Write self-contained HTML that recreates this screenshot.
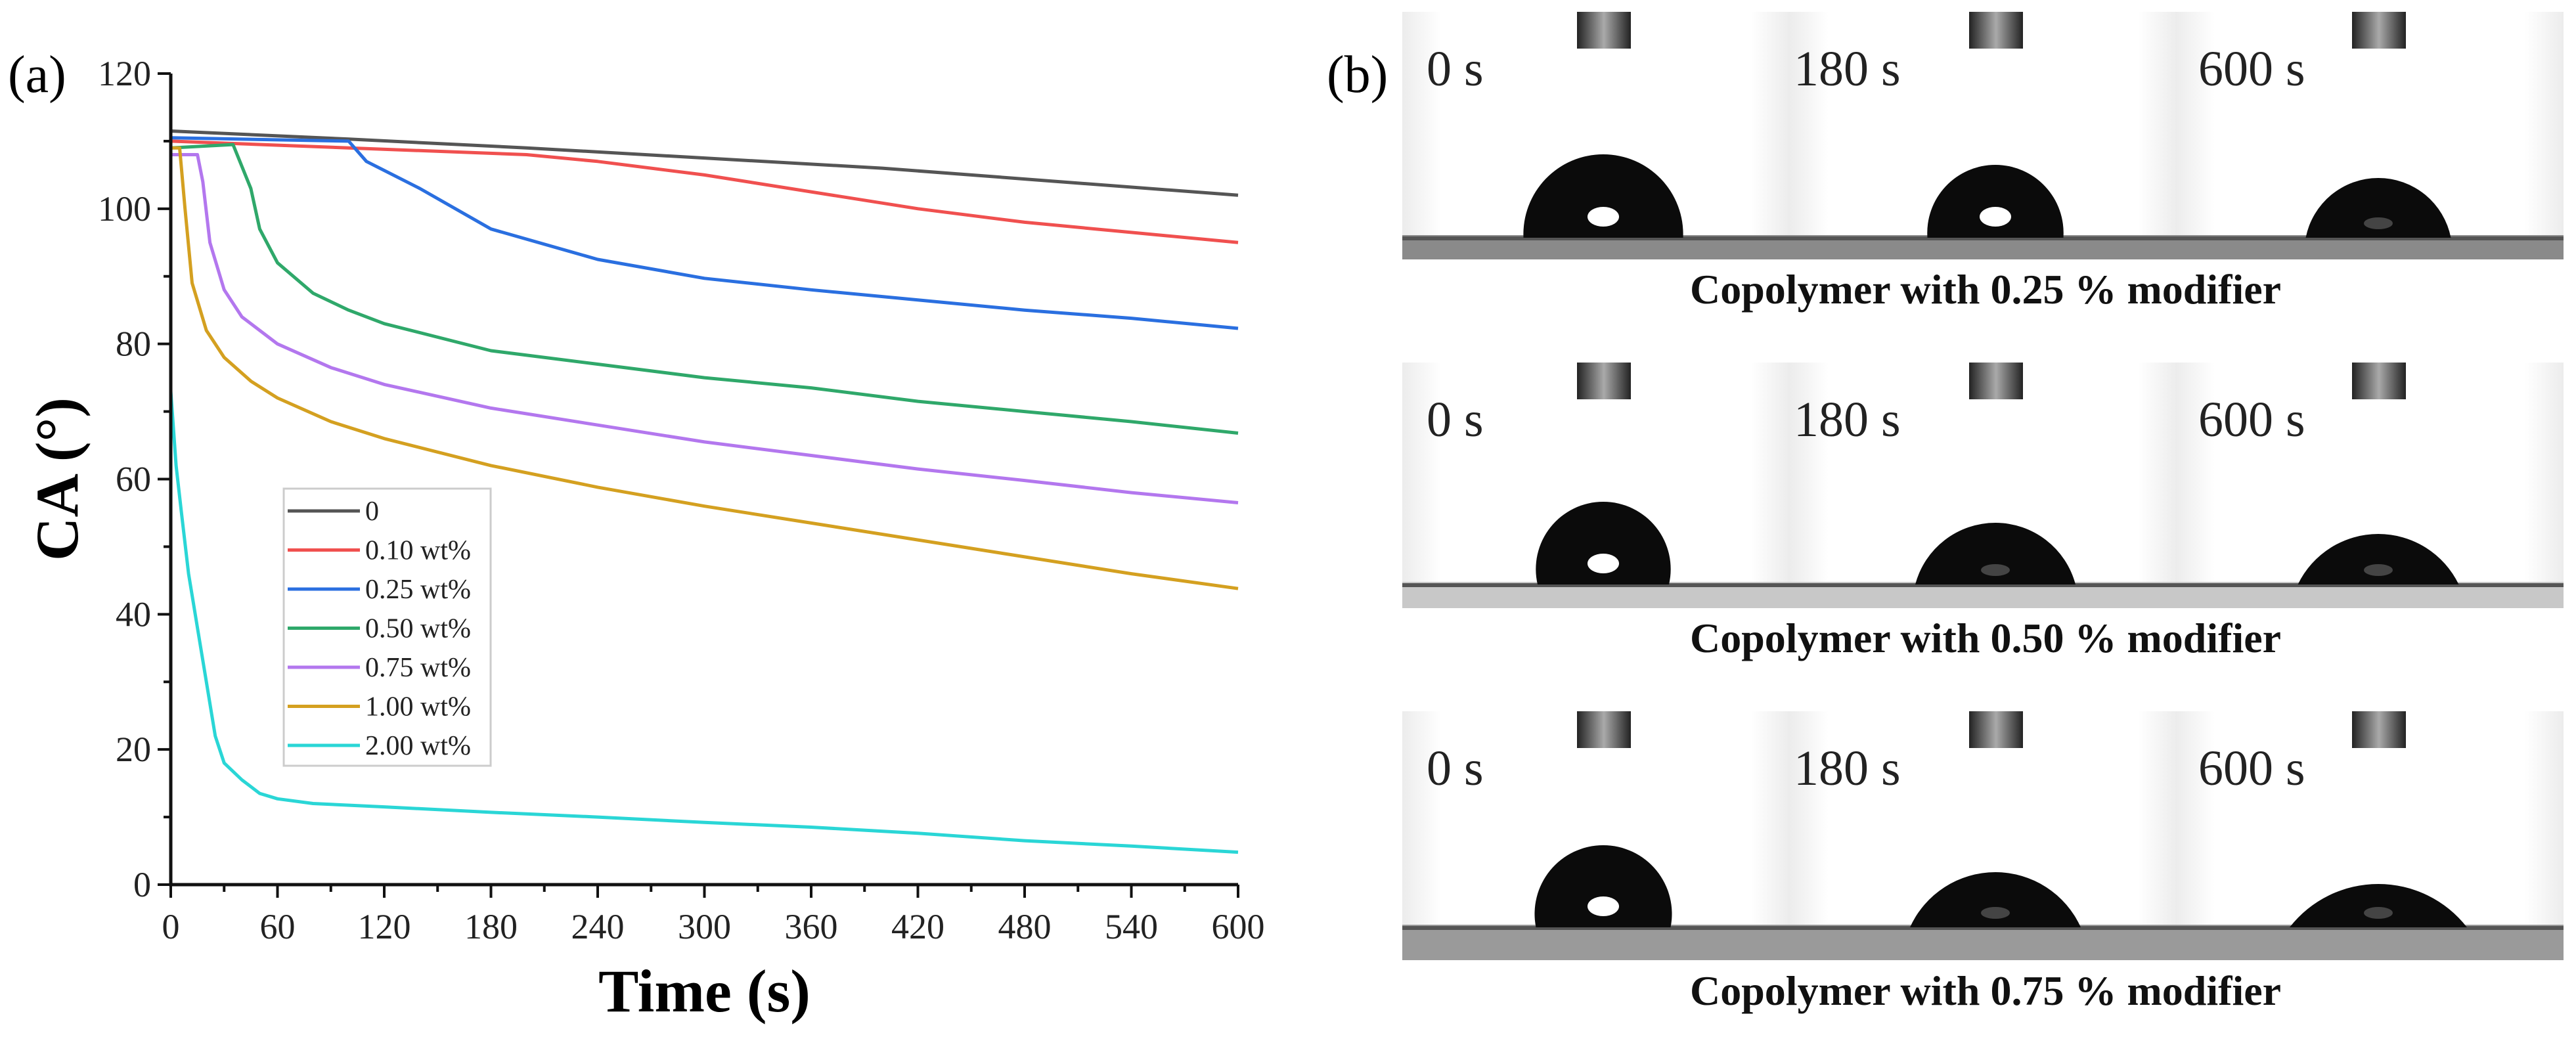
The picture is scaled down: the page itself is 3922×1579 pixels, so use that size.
<!DOCTYPE html>
<html><head><meta charset="utf-8"><style>
html,body{margin:0;padding:0;background:#fff}
svg{display:block}
text{font-family:"Liberation Serif",serif}
</style></head><body>
<svg id="fig" width="3922" height="1579" viewBox="0 0 3922 1579" xmlns="http://www.w3.org/2000/svg">
<defs>
<linearGradient id="bg" x1="0" y1="0" x2="1" y2="0"><stop offset="0" stop-color="#ececec"/><stop offset="0.1" stop-color="#fff"/><stop offset="0.9" stop-color="#fff"/><stop offset="1" stop-color="#ececec"/></linearGradient>
<linearGradient id="nd" x1="0" y1="0" x2="1" y2="0"><stop offset="0" stop-color="#222"/><stop offset="0.5" stop-color="#aaa"/><stop offset="1" stop-color="#222"/></linearGradient>
</defs>
<text x="12" y="140" font-size="80">(a)</text>
<g id="chart"></g>
<text x="2020" y="140" font-size="80">(b)</text>
<g id="photos"></g>
</svg>
<script>
const xTicks=[0,60,120,180,240,300,360,420,480,540,600];
const yTicks=[0,20,40,60,80,100,120];
const seriesNames=["0","0.10 wt%","0.25 wt%","0.50 wt%","0.75 wt%","1.00 wt%","2.00 wt%"];
const seriesColors=["#555555","#f0504f","#2a6fe0","#2fa86a","#b377ee","#d4a020","#2ad6d6"];
const t0=[0,100,200,300,400,500,600];
const v0=[111.5,110.3,109,107.5,106,104,102];
const t1=[0,100,200,240,300,360,420,480,540,600];
const v1=[110,109,108,107,105,102.5,100,98,96.5,95];
const t2=[0,100,110,140,180,240,300,360,420,480,540,600];
const v2=[110.5,110,107,103,97,92.5,89.7,88,86.5,85,83.8,82.3];
const t3=[0,35,45,50,60,80,100,120,180,240,300,360,420,480,540,600];
const v3=[109,109.5,103,97,92,87.5,85,83,79,77,75,73.5,71.5,70,68.5,66.8];
const t4=[0,15,18,22,30,40,60,90,120,180,240,300,360,420,480,540,600];
const v4=[108,108,104,95,88,84,80,76.5,74,70.5,68,65.5,63.5,61.5,59.8,58,56.5];
const t5=[0,5,8,12,20,30,45,60,90,120,180,240,300,360,420,480,540,600];
const v5=[109,109,100,89,82,78,74.5,72,68.5,66,62,58.8,56,53.5,51,48.5,46,43.8];
const t6=[0,3,6,10,15,20,25,30,40,50,60,80,120,180,240,300,360,420,480,540,600];
const v6=[73,62,55,46,38,30,22,18,15.5,13.5,12.7,12,11.5,10.7,10,9.2,8.5,7.6,6.5,5.7,4.8];
const seriesT=[t0,t1,t2,t3,t4,t5,t6];
const seriesV=[v0,v1,v2,v3,v4,v5,v6];

const NS="http://www.w3.org/2000/svg";
const X0=260,X1=1885,Y0=1347,Y1=112;
const sx=v=>X0+(v-0)/(600-0)*(X1-X0);
const sy=v=>Y0-(v-0)/(120-0)*(Y0-Y1);
function mk(tag,attrs,parent){const e=document.createElementNS(NS,tag);for(const k in attrs)e.setAttribute(k,attrs[k]);parent.appendChild(e);return e;}
const g=document.getElementById('chart');
for(let i=0;i<seriesT.length;i++){
  const d=seriesT[i].map((t,j)=>(j?'L':'M')+sx(t).toFixed(1)+' '+sy(seriesV[i][j]).toFixed(1)).join(' ');
  const p=mk('path',{d:d,fill:'none',stroke:seriesColors[i],'stroke-width':5,'stroke-linejoin':'round'},g);
  
  
}
const ax=mk('path',{d:`M${X0} ${Y1} L${X0} ${Y0} L${X1} ${Y0}`,fill:'none',stroke:'#111','stroke-width':5},g);


for(let v=0;v<=600;v+=30){const maj=v%60===0;mk('line',{x1:sx(v),x2:sx(v),y1:Y0,y2:Y0+(maj?20:11),stroke:'#111','stroke-width':4},g);}
for(let v=0;v<=120;v+=10){const maj=v%20===0;mk('line',{x1:X0,x2:X0-(maj?20:11),y1:sy(v),y2:sy(v),stroke:'#111','stroke-width':4},g);}
xTicks.forEach(v=>{const t=mk('text',{x:sx(v),y:Y0+82,'font-size':54,'text-anchor':'middle',fill:'#222'},g);t.textContent=v;
  
  });
yTicks.forEach(v=>{const t=mk('text',{x:X0-30,y:sy(v)+18,'font-size':54,'text-anchor':'end',fill:'#222'},g);t.textContent=v;
  
  });
const xt=mk('text',{x:(X0+X1)/2,y:1540,'font-size':92,'font-weight':'bold','text-anchor':'middle'},g);xt.textContent='Time (s)';


const yt=mk('text',{x:0,y:0,'font-size':92,'font-weight':'bold','text-anchor':'middle',transform:`translate(118 ${(Y0+Y1)/2}) rotate(-90)`},g);yt.textContent='CA (°)';


const lg=mk('g',{},g);


mk('rect',{x:432,y:744,width:315,height:422,fill:'#fff',stroke:'#ccc','stroke-width':3},lg);
seriesNames.forEach((n,i)=>{const y=778+i*59.5;
  mk('line',{x1:438,x2:548,y1:y,y2:y,stroke:seriesColors[i],'stroke-width':5},lg);
  const t=mk('text',{x:556,y:y+14,'font-size':42,fill:'#222'},lg);t.textContent=n;
  
  });

const P=document.getElementById('photos');
const rows=[
 {top:18,bot:395,base:362,cap:'Copolymer with 0.25 % modifier',capY:462,drops:[[243,127],[207,111],[221,91]],band:'#8a8a8a'},
 {top:552,bot:926,base:890,cap:'Copolymer with 0.50 % modifier',capY:993,drops:[[200,126],[244,94],[245,77]],band:'#c8c8c8'},
 {top:1083,bot:1462,base:1412,cap:'Copolymer with 0.75 % modifier',capY:1530,drops:[[205,125],[260,84],[270,66]],band:'#9a9a9a'}];
const cx=[2441,3038,3621],fx=[2135,2725,3313],fw=590,lx=[2172,2731,3347],labels=['0 s','180 s','600 s'];
rows.forEach((r,ri)=>{
  const rg=mk('g',{},P);
  
  
  for(let k=0;k<3;k++){
    mk('rect',{x:fx[k],y:r.top,width:fw,height:r.bot-r.top,fill:'url(#bg)'},rg);
    mk('rect',{x:fx[k],y:r.base-4,width:fw,height:r.bot-r.base+4,fill:r.band},rg);
    mk('rect',{x:fx[k],y:r.base-2,width:fw,height:6,fill:'#555'},rg);
    mk('rect',{x:cx[k]-40,y:r.top,width:82,height:56,fill:'url(#nd)'},rg);
    const [w,h]=r.drops[k];
    const R=(w*w/4+h*h)/(2*h), large=h>w/2?1:0;
    mk('path',{d:`M${cx[k]-w/2} ${r.base} A${R} ${R} 0 ${large} 1 ${cx[k]+w/2} ${r.base} Z`,fill:'#0b0b0b'},rg);
    if(k===0||ri===0&&k===1) mk('ellipse',{cx:cx[k],cy:r.base-32,rx:24,ry:15,fill:'#fff'},rg);
    else mk('ellipse',{cx:cx[k],cy:r.base-22,rx:22,ry:9,fill:'#444'},rg);
    const t=mk('text',{x:lx[k],y:r.top+112,'font-size':76,fill:'#222'},rg);t.textContent=labels[k];
    
    
  }
  const c=mk('text',{x:3023,y:r.capY,'font-size':64,'font-weight':'bold','text-anchor':'middle',fill:'#111'},rg);c.textContent=r.cap;
  
  
});
</script>
</body></html>
